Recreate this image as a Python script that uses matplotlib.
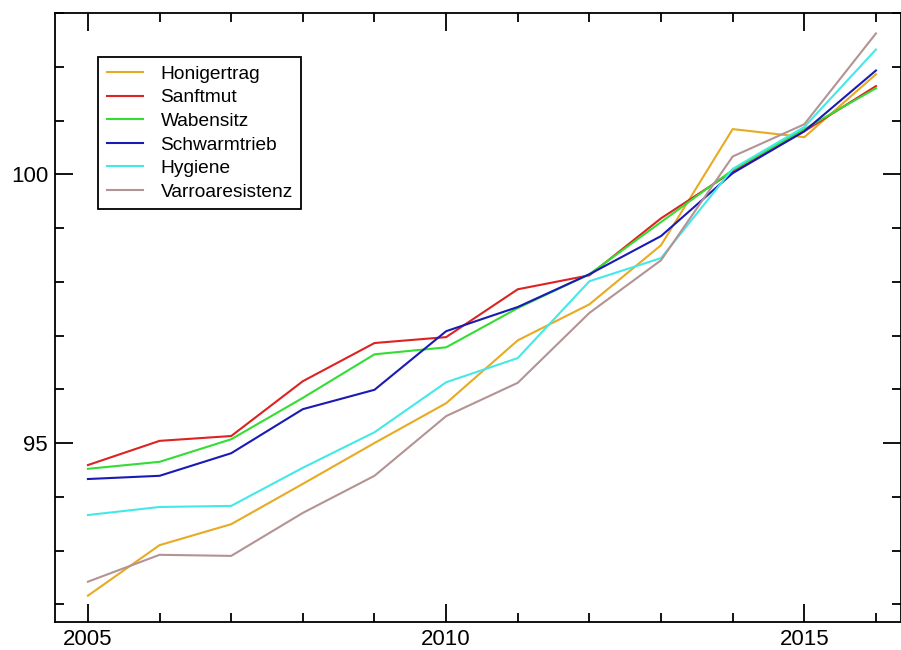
import matplotlib.pyplot as plt
from matplotlib.ticker import MultipleLocator

plt.rcParams["font.family"] = ["Liberation Sans", "DejaVu Sans"]

years = [2005, 2006, 2007, 2008, 2009, 2010, 2011, 2012, 2013, 2014, 2015, 2016]

honigertrag = [92.16, 93.10, 93.49, 94.24, 95.00, 95.74, 96.91, 97.58, 98.68, 100.84, 100.69, 101.86]
sanftmut = [94.59, 95.04, 95.13, 96.15, 96.86, 96.97, 97.86, 98.12, 99.18, 100.05, 100.80, 101.64]
wabensitz = [94.52, 94.65, 95.07, 95.84, 96.65, 96.78, 97.51, 98.14, 99.11, 100.08, 100.84, 101.60]
schwarmtrieb = [94.33, 94.39, 94.81, 95.63, 95.99, 97.08, 97.53, 98.14, 98.85, 100.02, 100.80, 101.93]
hygiene = [93.66, 93.81, 93.83, 94.54, 95.20, 96.13, 96.58, 98.01, 98.44, 100.10, 100.88, 102.32]
varroaresistenz = [92.42, 92.92, 92.90, 93.70, 94.39, 95.50, 96.12, 97.42, 98.40, 100.33, 100.93, 102.62]

series = [
    ("Honigertrag", honigertrag, "#e8aa22"),
    ("Sanftmut", sanftmut, "#dd2222"),
    ("Wabensitz", wabensitz, "#33dd33"),
    ("Schwarmtrieb", schwarmtrieb, "#1a1ab4"),
    ("Hygiene", hygiene, "#44e8e8"),
    ("Varroaresistenz", varroaresistenz, "#b39393"),
]

fig = plt.figure(figsize=(9.01, 6.5), dpi=100)
ax = fig.add_axes([55 / 901, 1 - 622 / 650, 846 / 901, 609 / 650])

for label, vals, color in series:
    ax.plot(years, vals, color=color, linewidth=1.5, label=label)

ax.set_xlim(2004.54, 2016.35)
ax.set_ylim(91.67, 103.0)

ax.xaxis.set_major_locator(MultipleLocator(5))
ax.xaxis.set_minor_locator(MultipleLocator(1))
ax.yaxis.set_major_locator(MultipleLocator(5))
ax.yaxis.set_minor_locator(MultipleLocator(1))

ax.tick_params(which="both", direction="in", top=True, right=True, width=1.3, labelsize=16)
ax.tick_params(which="major", length=13, pad=5)
ax.tick_params(which="minor", length=6.5)
for sp in ax.spines.values():
    sp.set_linewidth(1.3)

leg = ax.legend(loc="upper left", bbox_to_anchor=(0.051, 0.928), borderaxespad=0,
                fancybox=False, edgecolor="black", framealpha=1, fontsize=13.8,
                handlelength=1.9, handletextpad=0.9, labelspacing=0.32, borderpad=0.45)
leg.get_frame().set_linewidth(1.3)

fig.savefig("out.png", dpi=100)
